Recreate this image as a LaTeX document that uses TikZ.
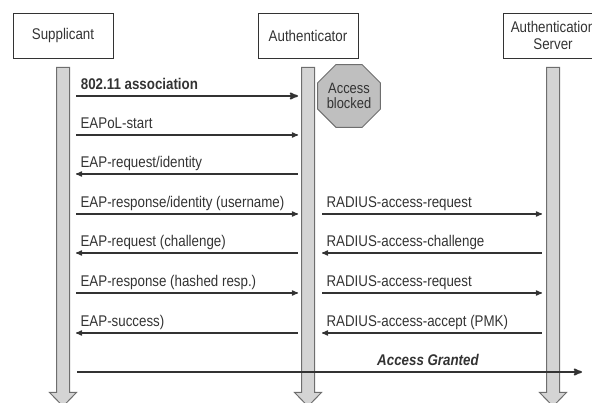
\documentclass[tikz,border=0pt]{standalone}
\usepackage{fontspec}
\setmainfont{Liberation Sans}[FakeStretch=0.86]
\usetikzlibrary{arrows,shapes.geometric}

\definecolor{ink}{HTML}{333333}
\definecolor{barfill}{HTML}{D4D4D4}
\definecolor{barline}{HTML}{6E6E6E}

\begin{document}
\begin{tikzpicture}[x=1pt,y=-1pt,>=stealth',line join=miter,
    every node/.style={font=\fontsize{15.5}{17}\selectfont,text=ink}]
  \tikzstyle{actor}=[draw=ink,line width=0.8pt,minimum width=100pt,minimum height=45pt,align=center,inner sep=0pt]
  \tikzstyle{lifeline}=[draw=barline,fill=barfill,line width=1pt]
  \tikzstyle{msg}=[draw=ink,line width=1.2pt]
  \tikzstyle{lbl}=[anchor=base west,inner sep=0pt,xshift=4pt,yshift=6pt]
  \useasboundingbox (0,0) rectangle (592,403);

  \node[actor] (supp) at (63,35.5)  {Supplicant};
  \node[actor] (auth) at (308,35.5) {Authenticator};
  \node[actor] (srv)  at (553,35.5) {Authentication\\Server};

  % lifelines
  \foreach \b in {supp,auth,srv}
    \draw[lifeline] (\b.south) ++(-6.5,9) -- ++(0,325) -- ++(-7,0) -- ++(13.5,14)
      -- ++(13.5,-14) -- ++(-7,0) -- ++(0,-325) -- cycle;

  \node[regular polygon,regular polygon sides=8,minimum size=60pt,inner sep=0pt,
        fill=barfill!90!black,draw=barline,line width=1pt,align=center,
        font=\fontsize{15}{15.5}\selectfont] (block) at (349,96) {Access\\blocked};

  % message end points
  \coordinate (sR) at (76,0);
  \coordinate (aL) at (298,0);
  \coordinate (aR) at (322,0);
  \coordinate (vL) at (542,0);

  \draw[msg,->,line width=1.8pt] (sR |- 0,96) -- (aL |- 0,96)
    node[lbl,pos=0,font=\fontsize{15.5}{17}\selectfont\bfseries] {802.11 association};
  \draw[msg,->] (sR |- 0,135) -- (aL |- 0,135) node[lbl,pos=0] {EAPoL-start};
  \draw[msg,<-] (sR |- 0,174) -- (aL |- 0,174) node[lbl,pos=0] {EAP-request/identity};
  \draw[msg,->] (sR |- 0,214) -- (aL |- 0,214) node[lbl,pos=0] {EAP-response/identity (username)};
  \draw[msg,<-] (sR |- 0,253) -- (aL |- 0,253) node[lbl,pos=0] {EAP-request (challenge)};
  \draw[msg,->] (sR |- 0,293) -- (aL |- 0,293) node[lbl,pos=0] {EAP-response (hashed resp.)};
  \draw[msg,<-] (sR |- 0,333) -- (aL |- 0,333) node[lbl,pos=0] {EAP-success)};

  \draw[msg,->] (aR |- 0,214) -- (vL |- 0,214) node[lbl,pos=0] {RADIUS-access-request};
  \draw[msg,<-] (aR |- 0,253) -- (vL |- 0,253) node[lbl,pos=0] {RADIUS-access-challenge};
  \draw[msg,->] (aR |- 0,293) -- (vL |- 0,293) node[lbl,pos=0] {RADIUS-access-request};
  \draw[msg,<-] (aR |- 0,333) -- (vL |- 0,333) node[lbl,pos=0] {RADIUS-access-accept (PMK)};

  \coordinate (gS) at (77,372);
  \coordinate (gE) at (582,372);
  \draw[msg,->,line width=1.8pt] (gS) -- (gE)
    node[pos=0.695,anchor=base,inner sep=0pt,yshift=6pt,
         font=\fontsize{15.5}{17}\selectfont\bfseries\itshape] {Access Granted};
\end{tikzpicture}
\end{document}
